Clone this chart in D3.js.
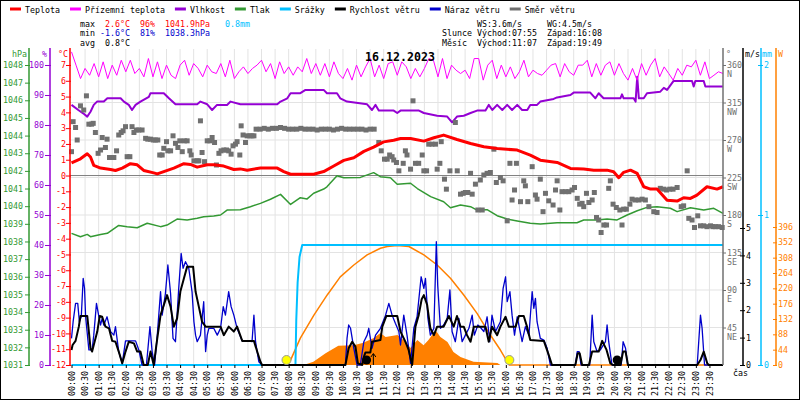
<!DOCTYPE html>
<html>
<head>
<meta charset="utf-8">
<script src="https://cdn.jsdelivr.net/npm/d3@7"></script>
<style>
  body { margin: 0; background: #fff; }
  svg { display: block; }
  text { font-family: "DejaVu Sans Mono", monospace; font-size: 8.3px; }
</style>
</head>
<body>
<script>
const WIDTH = 800;
const HEIGHT = 400;

// ---- data (time in hours) ----
const timeLabels = ['00:00','00:30','01:00','01:30','02:00','02:30','03:00','03:30','04:00','04:30',
  '05:00','05:30','06:00','06:30','07:00','07:30','08:00','08:30','09:00','09:30','10:00','10:30',
  '11:00','11:30','12:00','12:30','13:00','13:30','14:00','14:30','15:00','15:30','16:00','16:30',
  '17:00','17:30','18:00','18:30','19:00','19:30','20:00','20:30','21:00','21:30','22:00','22:30',
  '23:00','23:30'];
const halfHours = timeLabels.map((d, i) => i / 2);

const pressTicks = [1031,1032,1033,1034,1035,1036,1037,1038,1039,1040,1041,1042,1043,1044,1045,1046,1047,1048];
const humTicks = [0,10,20,30,40,50,60,70,80,90,100];
const tempTicks = [-12,-11,-10,-9,-8,-7,-6,-5,-4,-3,-2,-1,0,1,2,3,4,5,6,7];
const dirTicks = [45,90,135,180,225,270,315,360];
const compass = ['NE','E','SE','S','SW','W','NW','N'];
const windTicks = [0,1,2,3,4,5];
const rainTicks = [0,1,2];
const sunTicks = [0,44,88,132,176,220,264,308,352,396];

// temperature [h, °C]
const temperature = [[0,0.8],[0.33,1.06],[0.58,1.38],[0.7,1.17],[0.82,0.64],[1.07,0.47],[1.44,0.38],[1.62,0.32],
  [1.87,0.47],[2.17,0.75],[2.42,0.68],[2.66,0.32],[3.03,0.17],[3.16,0.1],[3.4,0.25],[3.77,0.47],[4.14,0.75],
  [4.38,0.7],[4.63,0.53],[5.0,0.68],[5.24,0.68],[5.61,0.6],[5.98,0.38],[6.22,0.42],[6.47,0.34],[6.96,0.47],
  [7.58,0.47],[7.82,0.25],[8.07,0.08],[8.92,0.08],[9.29,0.25],[9.66,0.6],[10.03,0.96],[10.4,1.13],[10.77,1.53],
  [11.13,1.8],[11.5,2.13],[11.87,2.23],[12.12,2.34],[12.49,2.35],[12.98,2.18],[13.35,2.39],[13.71,2.56],
  [14.2,2.28],[14.7,2.03],[15.19,1.82],[15.68,1.71],[16.42,1.61],[16.9,1.29],[17.27,0.97],[17.89,0.83],
  [18.38,0.45],[18.87,0.41],[19.24,0.34],[19.73,0.34],[19.97,0.24],[20.16,-0.14],[20.34,0.2],[20.59,0.34],
  [20.84,0.13],[21.08,-0.71],[21.33,-0.86],[21.57,-0.86],[21.94,-1.56],[22.31,-1.62],[22.55,-1.41],
  [22.8,-1.45],[23.04,-1.24],[23.41,-0.71],[23.78,-0.86],[24,-0.71]];

// ground temperature, one value every 10 minutes
const groundTemp = [
  7.83,6.99,6.14,6.78,6.35,7.09,6.25,7.2,6.14,6.99,
  6.35,7.3,6.57,7.3,6.46,6.78,6.25,7.41,6.25,7.2,
  6.14,6.99,6.35,6.14,6.99,7.3,6.35,7.09,6.78,6.25,
  6.99,6.57,6.46,7.09,6.25,7.3,6.14,6.57,6.88,6.46,
  6.78,6.99,7.3,6.57,7.09,6.14,7.2,6.46,6.88,6.35,
  6.88,6.57,7.41,6.46,7.09,6.35,7.09,6.25,7.2,6.46,
  6.14,6.78,6.04,6.99,6.25,6.88,7.41,6.25,6.99,6.14,
  7.09,7.2,6.35,
  7.2,6.88,6.14,6.78,6.25,6.78,7.41,7.3,6.25,7.41,
  6.14,6.99,6.67,6.46,6.67,6.14,7.41,7.41,6.04,6.99,
  7.3,6.14,6.99,6.25,6.88,6.14,6.57,7.3,6.25,6.67,
  6.46,6.35,6.67,6.99,7.09,6.25,7.09,6.57,6.35,6.99,
  6.99,7.3,6.25,7.09,6.35,6.99,7.2,6.35,7.09,6.46,
  6.04,6.78,6.04,7.09,6.35,6.99,7.41,6.25,6.88,6.46,
  6.04,6.78,6.35,6.99,6.88,7.3,6.35,7.2,6.14,6.35,
  6.57,6.46];

// humidity [h, %]
const humidity = [[0,86.7],[0.25,85],[0.43,83.9],[0.58,82.8],[0.7,84.4],[0.82,86.7],[0.94,87.8],[1.19,87.8],
  [1.32,88.9],[1.81,88.9],[1.93,87.8],[2.11,86.7],[2.23,85],[2.36,86.7],[2.54,87.8],[2.85,89.4],[2.91,90.6],
  [3.4,90.6],[3.59,88.9],[3.83,86.9],[4.63,86.9],[4.75,87.8],[5.0,86.9],[5.18,85],[5.36,86.7],[5.73,86.7],
  [5.86,87.8],[6.22,86.9],[7.58,86.9],[7.7,87.8],[7.95,88.9],[8.07,90.6],[8.43,90.6],[8.62,91.7],[9.29,91.7],
  [9.41,90.6],[9.78,90.6],[9.9,88.9],[10.15,87.8],[10.89,86.9],[11.07,85],[11.2,86.7],[11.32,84.8],
  [11.87,84.8],[12.0,84],[12.12,84.8],[12.8,84.8],[12.98,84],[13.47,83.1],[13.84,82.8],[14.02,80.9],
  [14.2,82.8],[14.45,83.1],[14.7,84],[14.94,84.8],[15.25,84.8],[15.37,86.7],[15.5,85],[15.68,86.7],
  [15.87,85],[16.05,86.7],[16.23,85],[16.42,86.7],[16.6,85],[16.79,85],[16.9,86.7],[17.15,86.7],
  [17.27,87.8],[17.76,88.7],[17.89,89.2],[18.38,90],[18.5,90.8],[19.11,90.8],[19.3,88.9],[19.42,90.6],
  [19.6,88.9],[20.22,88.9],[20.28,90.2],[20.34,88.9],[20.71,88.9],[20.78,87.8],[20.84,96.1],[20.9,88.9],
  [21.08,88.9],[21.2,90.6],[21.69,91.1],[21.82,92.4],[21.94,91.7],[22.18,94.7],[22.86,94.7],[22.92,92.8],
  [22.98,94.7],[23.29,94.7],[23.35,92.8],[24,92.8]];

// pressure [h, hPa]
const pressure = [[0,1038.46],[0.33,1038.27],[0.58,1038.4],[0.7,1038.27],[1.07,1038.4],[1.32,1038.46],
  [1.74,1038.91],[2.05,1038.84],[2.42,1038.78],[2.79,1039.03],[3.28,1038.84],[3.52,1038.93],[3.89,1039.27],
  [4.26,1039.22],[4.63,1039.31],[4.87,1039.4],[5.24,1039.44],[5.49,1039.5],[5.73,1039.78],[6.22,1039.8],
  [6.59,1039.97],[6.96,1040.16],[7.33,1040.39],[7.7,1040.67],[8.07,1040.1],[8.43,1040.48],[8.68,1040.41],
  [8.92,1040.73],[9.29,1040.97],[9.41,1041.1],[9.78,1041.72],[10.03,1041.61],[10.64,1041.63],[11.13,1041.9],
  [11.38,1041.67],[11.75,1041.61],[12.0,1041.24],[12.49,1041.3],[12.74,1041.0],[13.23,1040.54],
  [13.71,1040.25],[13.96,1039.91],[14.33,1040.07],[14.7,1039.97],[14.94,1039.78],[15.31,1039.8],
  [15.68,1039.46],[16.05,1039.27],[16.42,1039.16],[16.9,1039.03],[17.27,1038.99],[17.89,1039.06],
  [18.62,1039.06],[18.87,1039.22],[19.36,1039.22],[19.73,1039.27],[20.1,1039.22],[20.47,1039.5],
  [20.84,1039.74],[21.2,1039.93],[21.57,1039.97],[22.06,1039.88],[22.31,1039.69],[22.8,1039.91],
  [23.29,1039.78],[23.66,1039.88],[24,1039.59]];

// rain [h, mm]
const rain = [[0,0],[8.25,0],[8.28,0.3],[8.33,0.55],[8.4,0.72],[8.5,0.8],[24,0.8]];

// wind speed [h, m/s]
const windSpeed = [[0,0.55],[0.04,0.73],[0.15,0.88],[0.27,1.4],[0.33,1.79],[0.58,1.79],[0.64,1.22],[0.7,0.61],
  [0.76,0.49],[0.82,0.73],[0.95,1.22],[1.04,1.79],[1.13,1.76],[1.25,1.4],[1.38,1.34],[1.5,0.88],[1.62,0.85],
  [1.74,0.49],[1.87,0.06],[1.99,0.49],[2.11,0.85],[2.3,0.79],[2.42,0.49],[2.54,0.49],[2.66,0],[2.81,0],
  [2.91,0.49],[3.03,0],[3.16,0.97],[3.28,1.82],[3.52,2.55],[3.65,2.13],[3.77,1.4],[3.89,1.7],[4.01,2.68],
  [4.14,3.16],[4.26,3.59],[4.48,3.59],[4.57,2.68],[4.69,2.13],[4.81,1.58],[4.94,1.4],[5.49,1.4],[5.61,1.09],
  [5.79,1.4],[5.98,1.22],[6.1,1.4],[6.29,0.88],[6.72,0.88],[6.84,0.49],[6.96,0.12],[7.02,0],[10.09,0],
  [10.21,0.61],[10.34,0.85],[10.46,0.67],[10.55,0.06],[10.71,0],[10.77,0.3],[10.83,0.46],[11.01,0.46],
  [11.07,0.85],[11.38,0.91],[11.45,1.4],[11.6,1.79],[12.0,1.79],[12.12,1.22],[12.3,0.85],[12.42,0.55],
  [12.55,0],[12.67,1.4],[12.79,1.82],[12.9,2.4],[12.98,2.55],[13.1,2.2],[13.22,1.34],[13.35,1.09],[13.47,1.4],
  [13.71,1.4],[13.9,1.79],[14.08,1.4],[14.2,1.79],[14.33,1.4],[14.45,1.4],[14.57,1.09],[14.7,0.85],[14.82,1.4],
  [15.25,1.4],[15.37,0.85],[15.49,1.4],[15.68,1.09],[15.8,1.4],[15.99,1.76],[16.11,1.4],[16.36,1.4],
  [16.48,1.79],[16.66,1.79],[16.78,1.4],[16.9,0.91],[17.4,0.88],[17.58,0.37],[17.7,0],[18.56,0],[18.65,0.43],
  [18.72,0.43],[18.81,0],[19.06,0],[19.18,0.49],[19.42,0.49],[19.55,0.88],[19.71,0.55],[19.85,0.06],
  [19.95,0],[20.22,0],[20.32,0.49],[20.41,0.49],[20.5,0],[23.05,0],[23.17,0.18],[23.29,0.49],[23.42,0.06],
  [23.48,0],[24,0]];

// wind gusts [h, m/s]
const windGust = [[0,0.97],[0.06,1.58],[0.15,2.25],[0.23,2.25],[0.29,1.58],[0.36,1.76],[0.43,3.16],[0.48,2.8],
  [0.52,1.76],[0.64,0.55],[0.76,0.55],[0.82,1.09],[0.92,2.25],[1.01,1.76],[1.07,1.46],[1.13,1.7],[1.19,1.46],
  [1.31,1.76],[1.44,1.22],[1.56,1.09],[1.62,1.4],[1.74,0.49],[1.87,0.06],[1.99,0.88],[2.17,0.88],[2.36,0.88],
  [2.48,0.55],[2.6,0],[2.76,0],[2.89,1.4],[2.97,0.49],[3.06,0],[3.16,1.09],[3.28,2.68],[3.34,1.82],[3.46,2.61],
  [3.55,3.65],[3.65,2.61],[3.74,0.97],[3.83,0.85],[3.95,2.8],[4.04,4.07],[4.11,3.53],[4.2,3.77],[4.32,3.53],
  [4.44,2.68],[4.51,1.58],[4.57,1.09],[4.63,0.85],[4.75,1.09],[4.87,2.31],[4.94,0.49],[5.0,1.09],[5.06,1.34],
  [5.24,1.34],[5.37,1.09],[5.49,1.34],[5.59,2.13],[5.67,1.82],[5.79,2.68],[5.88,2.13],[5.98,1.82],[6.1,1.34],
  [6.29,0.88],[6.47,0.88],[6.65,0.85],[6.72,1.82],[6.78,0.85],[6.9,0.12],[7.02,0],[10.09,0],[10.15,0.97],
  [10.21,1.46],[10.28,1.34],[10.4,0.61],[10.52,0],[10.64,0],[10.77,0.85],[10.89,1.09],[10.95,1.34],
  [11.07,0.61],[11.2,1.09],[11.38,1.34],[11.57,1.82],[11.69,2.25],[11.81,1.82],[11.93,1.52],[12.06,1.22],
  [12.12,0.73],[12.24,1.82],[12.36,1.09],[12.49,0.06],[12.61,1.34],[12.73,1.76],[12.88,3.22],[12.98,2.8],
  [13.04,3.16],[13.13,1.7],[13.22,1.09],[13.35,1.34],[13.44,4.5],[13.49,2.92],[13.59,1.34],[13.71,1.46],
  [13.84,1.7],[13.94,2.74],[14.02,1.22],[14.14,0.85],[14.27,1.7],[14.39,0.85],[14.51,1.09],[14.64,1.34],
  [14.76,1.82],[14.84,1.09],[14.97,1.46],[15.09,1.34],[15.19,1.22],[15.31,1.76],[15.41,0.85],[15.49,1.82],
  [15.62,1.22],[15.8,1.58],[15.9,2.8],[15.99,3.22],[16.05,2.31],[16.15,2.68],[16.23,1.82],[16.32,1.09],
  [16.42,1.76],[16.6,0.85],[16.72,1.4],[16.85,1.09],[16.97,2.68],[17.03,2.07],[17.09,2.43],[17.15,1.58],
  [17.27,0.97],[17.4,0.91],[17.52,0.61],[17.64,0],[18.56,0],[18.63,0.49],[18.7,0.49],[18.77,0],[19.09,0],
  [19.18,1.82],[19.24,0.85],[19.36,0.49],[19.48,0.55],[19.67,0.85],[19.73,1.46],[19.79,0.85],[19.91,0],
  [20.25,0],[20.32,0.85],[20.41,0.61],[20.49,0],[23.05,0],[23.17,1.82],[23.23,1.34],[23.32,0],[24,0]];

// wind direction [h, degrees]
const windDir = [[0,256],[0.06,292],[0.15,285],[0.21,270],[0.33,311],[0.45,306],[0.55,323],[0.64,289],[0.74,289],
  [0.8,290],[0.88,279],[0.98,254],[1.07,258],[1.13,273],[1.25,261],[1.31,271],[1.4,249],[1.5,249],[1.56,249],
  [1.66,257],[1.74,276],[1.83,279],[1.9,281],[1.99,286],[2.05,250],[2.15,250],[2.23,286],[2.3,279],[2.39,282],
  [2.48,282],[2.6,282],[2.73,272],[2.81,271],[2.91,271],[3.01,270],[3.09,270],[3.18,270],[3.25,252],[3.34,252],
  [3.4,260],[3.5,268],[3.55,257],[3.65,257],[3.74,275],[3.83,266],[3.92,261],[3.99,269],[4.08,256],[4.16,269],
  [4.26,269],[4.36,257],[4.41,252],[4.51,245],[4.63,245],[4.69,245],[4.75,293],[4.81,255],[4.9,244],[5.0,269],
  [5.1,269],[5.18,273],[5.27,267],[5.34,240],[5.43,254],[5.51,257],[5.61,258],[5.71,258],[5.79,257],[5.88,253],
  [5.95,263],[6.04,265],[6.1,268],[6.2,252],[6.25,287],[6.32,276],[6.41,267],[6.47,275],[6.57,275],[6.65,275],
  [6.72,275],[6.8,283],[6.95,283],[7.1,284],[7.25,283],[7.4,284],[7.55,284],[7.7,285],[7.85,284],[8.0,283],
  [8.15,283],[8.3,283],[8.45,284],[8.6,283],[8.75,283],[8.9,283],[9.05,282],[9.2,283],[9.35,283],[9.5,283],
  [9.65,282],[9.8,283],[9.95,284],[10.1,283],[10.25,283],[10.4,283],[10.55,283],[10.7,283],[10.85,282],
  [11.0,283],[11.15,283],[11.32,267],[11.41,257],[11.53,247],[11.63,247],[11.72,252],[11.81,250],[11.87,246],
  [11.97,243],[12.06,233],[12.22,242],[12.3,257],[12.36,252],[12.49,235],[12.58,317],[12.67,242],[12.79,242],
  [12.92,252],[12.98,233],[13.08,233],[13.16,265],[13.28,265],[13.41,265],[13.47,235],[13.57,242],[13.62,268],
  [13.74,223],[13.81,211],[13.94,233],[14.14,291],[14.21,233],[14.33,205],[14.43,206],[14.51,207],[14.6,207],
  [14.7,230],[14.76,205],[14.88,217],[14.97,186],[15.06,222],[15.13,186],[15.19,228],[15.31,230],[15.43,231],
  [15.56,259],[15.65,219],[15.8,225],[15.9,221],[16.05,173],[16.15,242],[16.23,198],[16.32,210],[16.39,242],
  [16.54,196],[16.66,221],[16.72,215],[16.81,196],[16.97,238],[17.09,204],[17.15,199],[17.27,223],[17.37,184],
  [17.46,206],[17.58,197],[17.74,192],[17.83,210],[17.89,221],[17.99,186],[18.07,208],[18.2,208],[18.32,208],
  [18.44,210],[18.53,213],[18.63,200],[18.72,193],[18.81,194],[18.87,190],[18.97,206],[19.06,195],[19.18,198],
  [19.26,207],[19.34,177],[19.42,174],[19.51,159],[19.61,168],[19.71,168],[19.79,212],[19.85,221],[19.95,193],
  [20.07,189],[20.2,186],[20.28,168],[20.34,187],[20.44,187],[20.57,193],[20.65,199],[20.77,198],[20.9,198],
  [21.02,199],[21.14,198],[21.27,190],[21.45,184],[21.57,183],[21.69,212],[21.82,211],[21.92,210],[22.04,211],
  [22.16,211],[22.31,213],[22.46,190],[22.55,191],[22.68,233],[22.74,176],[22.86,174],[22.95,165],[23.07,179],
  [23.17,167],[23.29,167],[23.41,166],[23.54,167],[23.63,166],[23.72,166],[23.84,166],[23.97,165]];

// clear-sky sun curve and measured radiation [h, W]
const sunCurve = [[7.92,0],[8.07,14],[8.43,77],[8.93,143],[9.42,201],[9.9,253],[10.4,287],[10.89,316],[11.38,335],
  [11.63,340],[12.0,343],[12.43,340],[12.98,316],[13.47,287],[13.96,249],[14.45,201],[14.94,148],[15.43,86],
  [15.8,43],[16.05,10],[16.13,0],[24,0]];
const radiation = [[8.55,0],[8.91,9],[9.36,34],[9.83,55],[10.39,57],[10.72,63],[11.12,77],[11.38,92],[11.57,80],
  [12.01,86],[12.23,72],[12.49,49],[12.74,72],[12.97,57],[13.15,72],[13.41,100],[13.59,80],[13.85,66],
  [14.07,37],[14.33,23],[14.81,9],[15.69,6],[15.8,0]];

const sunTimes = [7.92, 16.13];
const moonTimes = [10.87, 20.1];
const moonRiseTime = 11.12;

const legendNames = ['Teplota','Přízemní teplota','Vlhkost','Tlak','Srážky','Rychlost větru','Náraz větru','Směr větru'];
const legendColors = ['#ff0000','#ff00ff','#9400d3','#339933','#00bfff','#000000','#0000cc','#707070'];

// ---- scales ----
const x = d3.scaleLinear().domain([0, 24]).range([71.5, 723]);
const yT = d3.scaleLinear().domain([-12, 8]).range([365, 49.2]);
const yH = d3.scaleLinear().domain([0, 100]).range([365, 65]);
const yP = d3.scaleLinear().domain([1031, 1048]).range([365, 65]);
const yD = d3.scaleLinear().domain([0, 360]).range([365, 65]);
const yW = d3.scaleLinear().domain([0, 5]).range([365, 228]);
const yR = d3.scaleLinear().domain([0, 2]).range([365, 65]);
const yS = d3.scaleLinear().domain([0, 396]).range([365, 227]);

const plain = d => String(d);

const svg = d3.select('body').append('svg')
  .attr('width', WIDTH)
  .attr('height', HEIGHT);

svg.append('rect')
  .attr('x', 0.5).attr('y', 0.5)
  .attr('width', WIDTH - 1).attr('height', HEIGHT - 1)
  .attr('fill', '#fff').attr('stroke', '#000');

// grid
const grid = svg.append('g').attr('stroke', '#e3e3e3');
grid.selectAll('line.v').data(halfHours.slice(1)).enter().append('line').attr('class', 'v')
  .attr('x1', d => x(d)).attr('x2', d => x(d)).attr('y1', 49).attr('y2', 365);
grid.selectAll('line.h').data(dirTicks.slice(0, -1)).enter().append('line').attr('class', 'h')
  .attr('x1', 70).attr('x2', 723).attr('y1', d => yD(d)).attr('y2', d => yD(d));

svg.append('line')
  .attr('x1', 70).attr('x2', 723).attr('y1', yT(0)).attr('y2', yT(0))
  .attr('stroke', '#808080');

function lineOf(yScale) {
  return d3.line().x(d => x(d[0])).y(d => yScale(d[1]));
}
function drawLine(data, yScale, color, width) {
  svg.append('path')
    .datum(data)
    .attr('d', lineOf(yScale))
    .attr('fill', 'none')
    .attr('stroke', color)
    .attr('stroke-width', width)
    .attr('stroke-linejoin', 'round');
}

// radiation
svg.append('path')
  .datum(radiation)
  .attr('d', d3.area().x(d => x(d[0])).y0(yS(0)).y1(d => yS(d[1])))
  .attr('fill', '#ff8000');
drawLine(sunCurve, yS, '#ff8000', 1.5);

drawLine(rain, yR, '#00bfff', 2);
drawLine(pressure, yP, '#339933', 1.5);
drawLine(humidity, yH, '#9400d3', 2);
drawLine(groundTemp.map((v, i) => [i / 6, v]), yT, '#ff00ff', 1);

svg.append('g').selectAll('rect')
  .data(windDir)
  .enter()
  .append('rect')
  .attr('x', d => x(d[0]) - 2.5)
  .attr('y', d => yD(d[1]) - 2.5)
  .attr('width', 5)
  .attr('height', 5)
  .attr('fill', '#707070');

drawLine(temperature, yT, '#ff0000', 3);
drawLine(windGust, yW, '#0000cc', 1.3);
drawLine(windSpeed, yW, '#000000', 2);

// sun / moon markers
svg.selectAll('circle.sun').data(sunTimes).enter().append('circle').attr('class', 'sun')
  .attr('cx', d => x(d)).attr('cy', 360).attr('r', 4.5)
  .attr('fill', '#ffff00').attr('stroke', '#999');
svg.selectAll('circle.moon').data(moonTimes).enter().append('circle').attr('class', 'moon')
  .attr('cx', d => x(d)).attr('cy', 360).attr('r', 4.5)
  .attr('fill', '#000');
svg.append('line')
  .attr('x1', x(moonRiseTime)).attr('x2', x(moonRiseTime))
  .attr('y1', 365).attr('y2', 354).attr('stroke', '#000');
svg.append('path')
  .attr('d', `M${x(moonRiseTime) - 2.5},357 L${x(moonRiseTime)},353.5 L${x(moonRiseTime) + 2.5},357`)
  .attr('fill', 'none').attr('stroke', '#000');

// ---- axes ----
function styleAxis(g, color, tx1, tx2) {
  g.select('.domain').remove();
  g.selectAll('.tick line').attr('stroke', color).attr('x1', tx1).attr('x2', tx2);
  g.selectAll('.tick text').attr('fill', color);
}
function axisBar(xPos, color) {
  svg.append('line')
    .attr('x1', xPos).attr('x2', xPos).attr('y1', 48).attr('y2', 365)
    .attr('stroke', color).attr('stroke-width', 1.5);
}

const gP = svg.append('g').attr('transform', 'translate(29,0)')
  .call(d3.axisLeft(yP).tickValues(pressTicks).tickSize(4).tickPadding(2).tickFormat(plain));
styleAxis(gP, '#339933', -4, 1);
axisBar(29, '#339933');

const gH = svg.append('g').attr('transform', 'translate(50,0)')
  .call(d3.axisLeft(yH).tickValues(humTicks).tickSize(5).tickPadding(1).tickFormat(plain));
styleAxis(gH, '#9400d3', -5, 1);
axisBar(50, '#9400d3');

const gT = svg.append('g').attr('transform', 'translate(70,0)')
  .call(d3.axisLeft(yT).tickValues(tempTicks).tickSize(4).tickPadding(0).tickFormat(plain));
styleAxis(gT, '#ff0000', -4, 1);
axisBar(70, '#ff0000');

const gD = svg.append('g').attr('transform', 'translate(723,0)')
  .call(d3.axisRight(yD).tickValues(dirTicks).tickSize(3).tickPadding(1).tickFormat(plain));
styleAxis(gD, '#707070', 0, 3);
gD.selectAll('.tick').append('text')
  .attr('x', 4).attr('dy', '1.4em').attr('fill', '#707070')
  .text((d, i) => compass[i]);
axisBar(723, '#707070');

const gW = svg.append('g').attr('transform', 'translate(743,0)')
  .call(d3.axisRight(yW).tickValues(windTicks).tickSize(2).tickPadding(1).tickFormat(plain));
styleAxis(gW, '#000', -3, 2);
axisBar(743, '#000');

const gR = svg.append('g').attr('transform', 'translate(761,0)')
  .call(d3.axisRight(yR).tickValues(rainTicks).tickSize(2).tickPadding(1).tickFormat(plain));
styleAxis(gR, '#00bfff', -3, 2);
axisBar(761, '#00bfff');

const gS = svg.append('g').attr('transform', 'translate(776,0)')
  .call(d3.axisRight(yS).tickValues(sunTicks).tickSize(1).tickPadding(1).tickFormat(plain));
styleAxis(gS, '#ff8000', -3, 1);
axisBar(776, '#ff8000');

const gX = svg.append('g').attr('transform', 'translate(0,365)')
  .call(d3.axisBottom(x).tickValues(halfHours).tickSize(3).tickFormat((d, i) => timeLabels[i]));
gX.select('.domain').remove();
gX.selectAll('.tick line').attr('stroke', '#000');
gX.selectAll('.tick text')
  .attr('transform', 'rotate(-90)')
  .attr('x', -6).attr('y', 0).attr('dy', '0.32em')
  .attr('text-anchor', 'end')
  .attr('fill', '#000');

// axis headers
const headers = [
  ['hPa', 27, 'end', '#339933'], ['%', 47, 'end', '#9400d3'], ['°C', 68, 'end', '#ff0000'],
  ['°', 726, 'start', '#707070'], ['m/s', 745, 'start', '#000'], ['mm', 762, 'start', '#00bfff'],
  ['W', 778, 'start', '#ff8000']];
svg.append('g').selectAll('text').data(headers).enter().append('text')
  .attr('x', d => d[1]).attr('y', 56.5)
  .attr('text-anchor', d => d[2])
  .attr('fill', d => d[3])
  .text(d => d[0]);
svg.append('text').attr('x', 733).attr('y', 376).attr('fill', '#000').text('čas');

// legend
let lx = 10;
const legend = svg.append('g');
legendNames.forEach((name, i) => {
  legend.append('line')
    .attr('x1', lx).attr('x2', lx + 11).attr('y1', 9).attr('y2', 9)
    .attr('stroke', legendColors[i]).attr('stroke-width', 3);
  const t = legend.append('text').attr('x', lx + 15).attr('y', 12.5).attr('fill', '#000').text(name);
  lx = lx + 15 + t.node().getComputedTextLength() + 10;
});

// statistics
const statRows = [
  [['max', 80, '#000'], ['2.6°C', 105, '#ff0000'], ['96%', 140, '#ff0000'], ['1041.9hPa', 165, '#ff0000'], ['0.8mm', 225, '#00bfff'],
   ['WS:3.6m/s', 477, '#000'], ['WG:4.5m/s', 547, '#000']],
  [['min', 80, '#000'], ['-1.6°C', 100, '#0000cc'], ['81%', 140, '#0000cc'], ['1038.3hPa', 165, '#0000cc'],
   ['Slunce', 442, '#000'], ['Východ:07:55', 477, '#000'], ['Západ:16:08', 547, '#000']],
  [['avg', 80, '#000'], ['0.8°C', 105, '#000'],
   ['Měsíc', 442, '#000'], ['Východ:11:07', 477, '#000'], ['Západ:19:49', 547, '#000']]];
statRows.forEach((row, r) => {
  svg.append('g').selectAll('text').data(row).enter().append('text')
    .attr('x', d => d[1]).attr('y', 26.5 + r * 9.8)
    .attr('fill', d => d[2])
    .text(d => d[0]);
});

svg.append('text')
  .attr('x', 400).attr('y', 60.5)
  .attr('text-anchor', 'middle')
  .style('font-size', '11.6px').style('font-weight', 'bold')
  .attr('fill', '#000')
  .text('16.12.2023');
</script>
</body>
</html>
